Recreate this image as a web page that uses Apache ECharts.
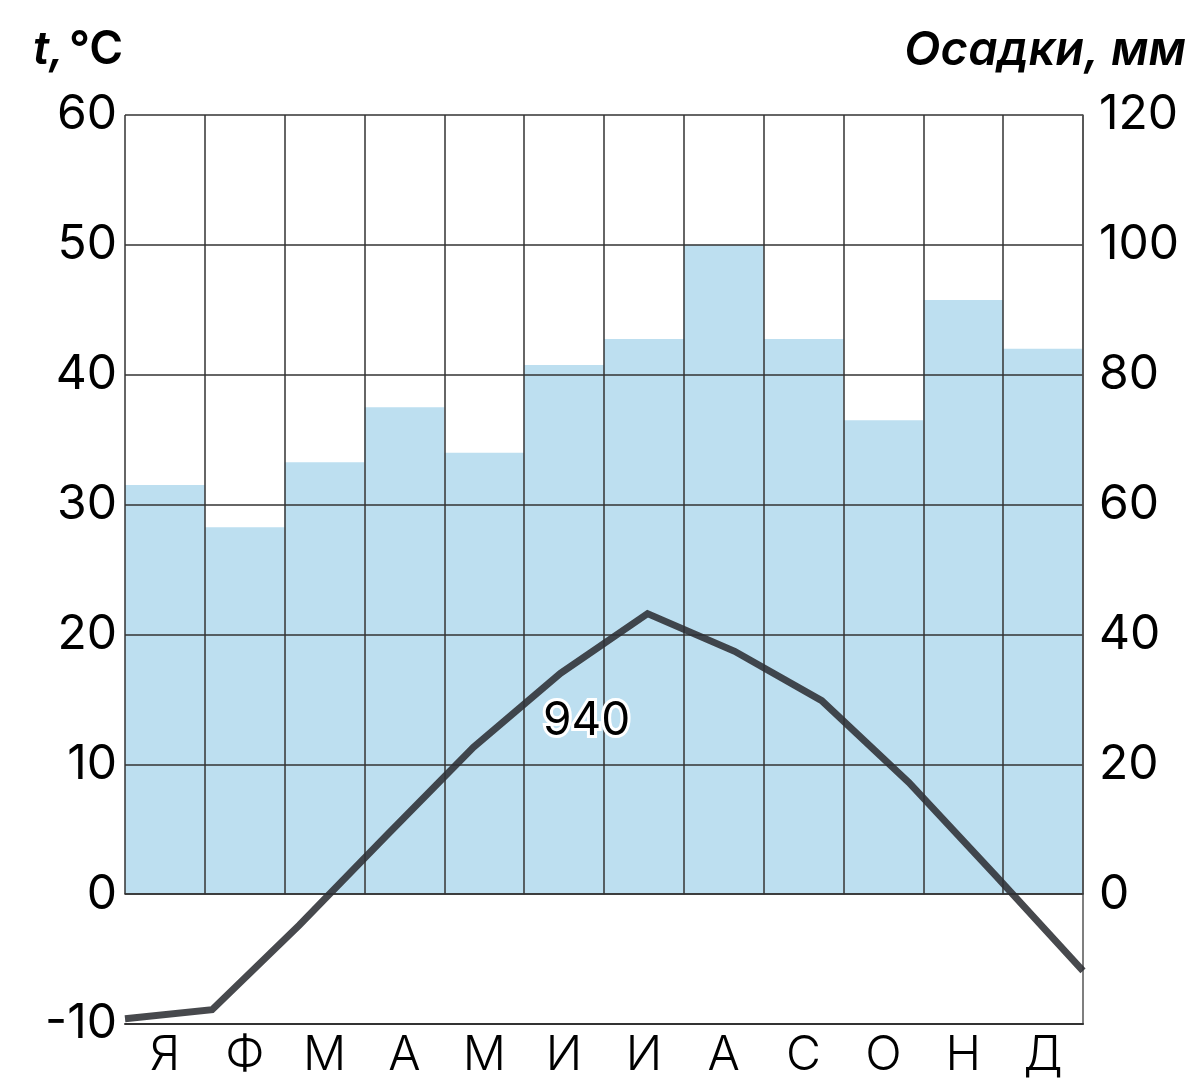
<!DOCTYPE html>
<html>
<head>
<meta charset="utf-8">
<script src="https://cdn.jsdelivr.net/npm/echarts@6/dist/echarts.min.js"></script>
<style>html,body{margin:0;padding:0;background:#fff;}#c{width:1197px;height:1081px;}</style>
</head>
<body>
<div id="c"></div>
<script>
const months = ['Я','Ф','М','А','М','И','И','А','С','О','Н','Д'];
const precipitation = [63, 56.5, 66.5, 75, 68, 81.5, 85.5, 100, 85.5, 73, 91.5, 84];
const temperature = [-9.6, -8.9, -2.4, 4.5, 11.3, 17.0, 21.6, 18.7, 14.9, 8.6, 1.4, -5.9];
const tempTicks = {min: -10, max: 60, interval: 10};
const precTicks = {min: -20, max: 120, interval: 20};
const annualTotal = '940';
const precTitle = 'Осадки, мм';

const FONT = 'Inter';
const GRID_COLOR = '#333';
const chart = echarts.init(document.getElementById('c'), null, {renderer: 'canvas'});

const L = 125, R = 114, T = 115, B = 57;
const plotH = 1081 - T - B;
const zeroFromBottom = B + plotH * (0 - tempTicks.min) / (tempTicks.max - tempTicks.min);

chart.setOption({
  animation: false,
  backgroundColor: '#fff',
  title: [
    {text: '{i|t,} {b|°C}', left: 28, top: 22,
     textStyle: {rich: {
       i: {fontFamily: FONT, fontSize: 46, fontWeight: 600, fontStyle: 'italic', color: '#000'},
       b: {fontFamily: FONT, fontSize: 46, fontWeight: 600, color: '#000'}
     }}},
    {text: precTitle, right: 6, top: 22,
     textStyle: {fontFamily: FONT, fontSize: 47, fontWeight: 600, fontStyle: 'italic', color: '#000'}}
  ],
  grid: [
    {left: L, right: R, top: T, bottom: zeroFromBottom},
    {left: L, right: R, top: T, bottom: B}
  ],
  xAxis: [
    {gridIndex: 0, type: 'category', data: months, boundaryGap: true, z: 3,
     axisLine: {show: true, lineStyle: {color: GRID_COLOR, width: 1.5}},
     axisTick: {show: false}, axisLabel: {show: false},
     splitLine: {show: true, lineStyle: {color: GRID_COLOR, width: 1.5}}},
    {gridIndex: 1, type: 'category', data: months, boundaryGap: true, z: 3,
     axisLine: {show: true, onZero: false, lineStyle: {color: GRID_COLOR, width: 2}},
     axisTick: {show: false},
     axisLabel: {fontFamily: FONT, fontSize: 48, fontWeight: 300, color: '#000', margin: 8},
     splitLine: {show: false}},
    {gridIndex: 1, type: 'category', data: months, boundaryGap: false, show: false}
  ],
  yAxis: [
    {gridIndex: 0, type: 'value', min: 0, max: tempTicks.max, interval: tempTicks.interval, show: false},
    {gridIndex: 0, type: 'value', min: 0, max: precTicks.max, interval: precTicks.interval, show: false, position: 'right'},
    {gridIndex: 1, type: 'value', position: 'left', min: tempTicks.min, max: tempTicks.max, interval: tempTicks.interval, z: 3,
     axisLine: {show: false}, axisTick: {show: false},
     axisLabel: {fontFamily: FONT, fontSize: 48, color: '#000', margin: 8},
     splitLine: {show: true, lineStyle: {color: GRID_COLOR, width: 1.5}}},
    {gridIndex: 1, type: 'value', position: 'right', min: precTicks.min, max: precTicks.max, interval: precTicks.interval, z: 3,
     axisLine: {show: true, onZero: false, lineStyle: {color: '#555', width: 1.5}}, axisTick: {show: false},
     axisLabel: {fontFamily: FONT, fontSize: 48, color: '#000', margin: 16,
       formatter: v => (v < 0 ? '' : String(v))},
     splitLine: {show: false}}
  ],
  series: [
    {type: 'bar', xAxisIndex: 0, yAxisIndex: 1, data: precipitation, barCategoryGap: 0, z: 1,
     itemStyle: {color: '#bddff0'}},
    {type: 'line', xAxisIndex: 2, yAxisIndex: 2, data: temperature, z: 10, symbol: 'none',
     lineStyle: {color: 'rgba(45,48,52,0.88)', width: 7, join: 'miter'}}
  ],
  graphic: [
    {type: 'text', left: 540, top: 695, z: 20,
     style: {text: annualTotal, font: '400 46px Inter', fill: '#000', stroke: '#fff', lineWidth: 6}}
  ]
});
</script>
</body>
</html>
